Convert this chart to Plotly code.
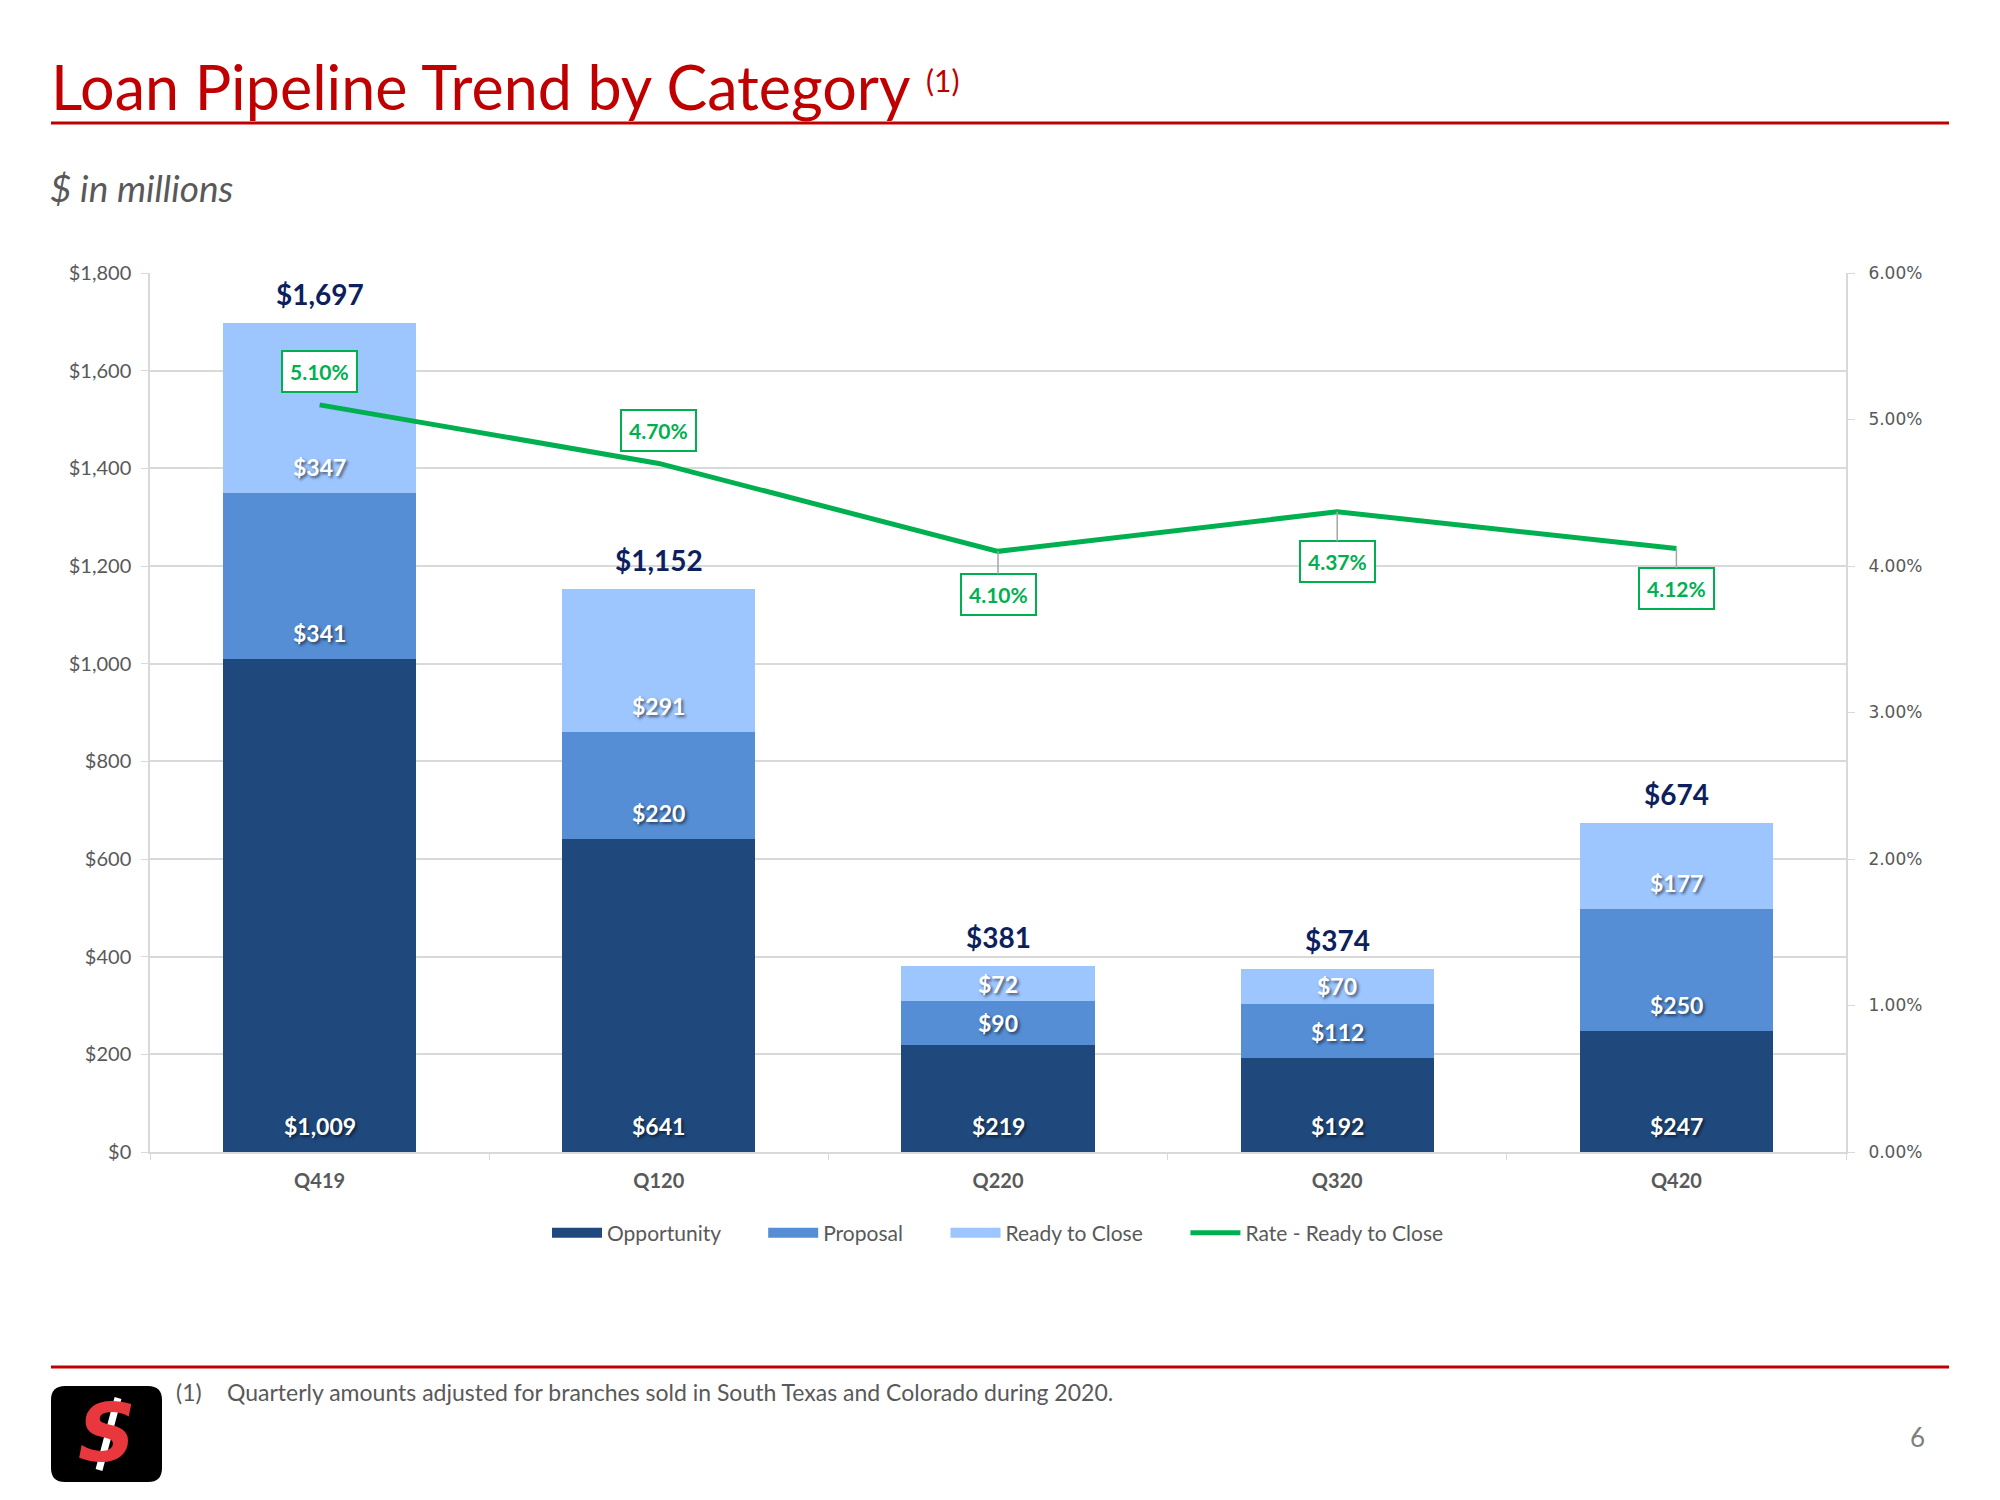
import plotly.graph_objects as go

quarters = ["Q419", "Q120", "Q220", "Q320", "Q420"]
opportunity = [1009, 641, 219, 192, 247]
proposal = [341, 220, 90, 112, 250]
ready_to_close = [347, 291, 72, 70, 177]
rate_ready = [5.10, 4.70, 4.10, 4.37, 4.12]  # percent
rate_label_offsets = [-33, -33, 43, 50, 40]  # pixel offsets of label boxes
rate_leader = [False, False, True, True, True]
totals = [a + b + c for a, b, c in zip(opportunity, proposal, ready_to_close)]

left_ticks = list(range(0, 1801, 200))
left_ticktext = ["${:,}".format(v) for v in left_ticks]

C_OPP = "#1F497D"
C_PROP = "#558ED5"
C_READY = "#9DC6FF"
C_RATE = "#00B050"
C_NAVY = "#0D1F5C"
C_RED = "#C00000"
C_GREY = "#595959"
C_GRID = "#D9D9D9"
FONT = "Lato, 'Open Sans', sans-serif"

W, H = 2000, 1500
OFF = 8  # page offset of the plot div
PL, PR, PT, PB = 150 - OFF, 1846 - OFF, 273 - OFF, 1152 - OFF
YMAX = 1800


def px(x):
    return (x - OFF - PL) / (PR - PL)


def py(y):
    return (PB - (y - OFF)) / (PB - PT)


def money(v):
    return "${:,}".format(v)


seg_font = dict(family=FONT, size=23, color="white", weight="bold",
                shadow="2px 2px 3px rgba(0,0,0,0.55)")

fig = go.Figure()
series = [("Opportunity", opportunity, C_OPP),
          ("Proposal", proposal, C_PROP),
          ("Ready to Close", ready_to_close, C_READY)]
for name, vals, col in series:
    fig.add_trace(go.Bar(
        x=quarters, y=vals, name=name, marker=dict(color=col, line=dict(width=0)),
        width=0.57, showlegend=False, hoverinfo="skip"))

fig.add_trace(go.Scatter(
    x=quarters, y=[r / 100 for r in rate_ready], name="Rate - Ready to Close",
    mode="lines", line=dict(color=C_RATE, width=5), yaxis="y2", hoverinfo="skip",
    showlegend=False))

# legend entries (rectangular swatches like the original)
GAP = "&nbsp;" * 7
for name, vals, col in series:
    fig.add_trace(go.Scatter(x=[None], y=[None], mode="lines", name=name + GAP,
                             line=dict(color=col, width=15), showlegend=True))
fig.add_trace(go.Scatter(x=[None], y=[None], mode="lines", name="Rate - Ready to Close",
                         line=dict(color=C_RATE, width=5), showlegend=True))

annotations = []
plot_h = PB - PT
# segment labels (inside base)
base = [0] * len(quarters)
for name, vals, col in series:
    for i, (q, v) in enumerate(zip(quarters, vals)):
        seg_px = v * plot_h / YMAX
        annotations.append(dict(x=q, y=base[i], xref="x", yref="y", text=money(v),
                                showarrow=False, yanchor="middle",
                                yshift=min(26, seg_px / 2), font=seg_font))
        base[i] += v
# totals
for q, t in zip(quarters, totals):
    annotations.append(dict(x=q, y=t, xref="x", yref="y", text=money(t),
                            showarrow=False, yanchor="bottom", yshift=10,
                            font=dict(family=FONT, size=28, color=C_NAVY, weight="bold")))
# rate labels
for q, r, off, lead in zip(quarters, rate_ready, rate_label_offsets, rate_leader):
    annotations.append(dict(
        x=q, y=r / 100, xref="x", yref="y2", text="{:.2f}%".format(r),
        showarrow=True, ax=0, ay=off, arrowhead=0, standoff=0, arrowwidth=1.5,
        arrowcolor="#A6A6A6" if lead else "rgba(0,0,0,0)",
        bgcolor="white", bordercolor=C_RATE, borderwidth=2, borderpad=7,
        font=dict(family=FONT, size=21, color=C_RATE, weight="bold")))

# title and page text
annotations += [
    dict(xref="paper", yref="paper", x=px(49), y=py(87), xanchor="left", yanchor="middle",
         text="Loan Pipeline Trend by Category", showarrow=False,
         font=dict(family=FONT, size=61, color=C_RED)),
    dict(xref="paper", yref="paper", x=px(924), y=py(80), xanchor="left", yanchor="middle",
         text="(1)", showarrow=False, font=dict(family=FONT, size=30, color=C_RED)),
    dict(xref="paper", yref="paper", x=px(48), y=py(188), xanchor="left", yanchor="middle",
         text="<i>$ in millions</i>", showarrow=False,
         font=dict(family=FONT, size=37, color=C_GREY)),
    dict(xref="paper", yref="paper", x=px(174), y=py(1392), xanchor="left", yanchor="middle",
         text="(1)", showarrow=False, font=dict(family=FONT, size=23, color=C_GREY)),
    dict(xref="paper", yref="paper", x=px(225), y=py(1392), xanchor="left", yanchor="middle",
         text="Quarterly amounts adjusted for branches sold in South Texas and Colorado during 2020.",
         showarrow=False, font=dict(family=FONT, size=23, color=C_GREY)),
    dict(xref="paper", yref="paper", x=px(1917), y=py(1437), xanchor="center", yanchor="middle",
         text="6", showarrow=False, font=dict(family=FONT, size=26, color="#7F7F7F")),
    # logo S
    dict(xref="paper", yref="paper", x=px(107), y=py(1433), xanchor="center", yanchor="middle",
         text="<b><i>S</i></b>", showarrow=False,
         font=dict(family="DejaVu Sans, sans-serif", size=80, color="#E8383D")),
]


def rounded_rect(x0, y0, x1, y1, r):
    rx = r / (PR - PL)
    ry = r / (PB - PT)
    a, b, c, d = px(x0), py(y0), px(x1), py(y1)  # b top (higher), d bottom
    return (f"M {a+rx},{b} L {c-rx},{b} Q {c},{b} {c},{b-ry} L {c},{d+ry} "
            f"Q {c},{d} {c-rx},{d} L {a+rx},{d} Q {a},{d} {a},{d+ry} L {a},{b-ry} "
            f"Q {a},{b} {a+rx},{b} Z")


shapes = [
    dict(type="line", xref="paper", yref="paper", x0=px(51), x1=px(1949), y0=py(123), y1=py(123),
         line=dict(color=C_RED, width=3)),
    dict(type="line", xref="paper", yref="paper", x0=px(51), x1=px(1949), y0=py(1367), y1=py(1367),
         line=dict(color=C_RED, width=3)),
    dict(type="path", xref="paper", yref="paper", path=rounded_rect(51, 1386, 162, 1482, 14),
         fillcolor="black", line=dict(color="black", width=0), layer="below"),
    dict(type="line", xref="paper", yref="paper", x0=px(118), x1=px(99), y0=py(1398), y1=py(1470),
         line=dict(color="white", width=7)),
]

fig.update_layout(
    width=W, height=H, autosize=False,
    margin=dict(l=PL, r=W - PR, t=PT, b=H - PB, pad=0),
    paper_bgcolor="white", plot_bgcolor="white",
    barmode="stack", bargap=0.43,
    font=dict(family=FONT, color=C_GREY),
    xaxis=dict(type="category", showline=True, linecolor=C_GRID, linewidth=1.5,
               ticks="outside", tickson="boundaries", ticklen=6, tickcolor=C_GRID,
               ticklabelstandoff=10,
               tickfont=dict(family=FONT, size=20, color=C_GREY, weight="bold"),
               showgrid=False, fixedrange=True),
    yaxis=dict(range=[0, YMAX], tickvals=left_ticks, ticktext=left_ticktext,
               showgrid=True, gridcolor=C_GRID, gridwidth=1.5,
               showline=True, linecolor=C_GRID, linewidth=1.5,
               ticks="outside", ticklen=7, tickcolor=C_GRID, ticklabelstandoff=6,
               tickfont=dict(family=FONT, size=20, color=C_GREY), zeroline=False),
    yaxis2=dict(range=[0, 0.06], dtick=0.01, tickformat=".2%", overlaying="y", side="right",
                showgrid=False, showline=True, linecolor=C_GRID, linewidth=2,
                ticks="outside", ticklen=7, tickcolor=C_GRID, ticklabelstandoff=10,
                tickfont=dict(family="DejaVu Sans, sans-serif", size=17, color=C_GREY),
                zeroline=False),
    legend=dict(orientation="h", x=0.5, xanchor="center", y=py(1233), yanchor="middle",
                font=dict(family=FONT, size=21, color=C_GREY), traceorder="normal",
                itemwidth=50, bgcolor="rgba(0,0,0,0)"),
    annotations=annotations, shapes=shapes, showlegend=True,
)

fig.write_html("out.html")
